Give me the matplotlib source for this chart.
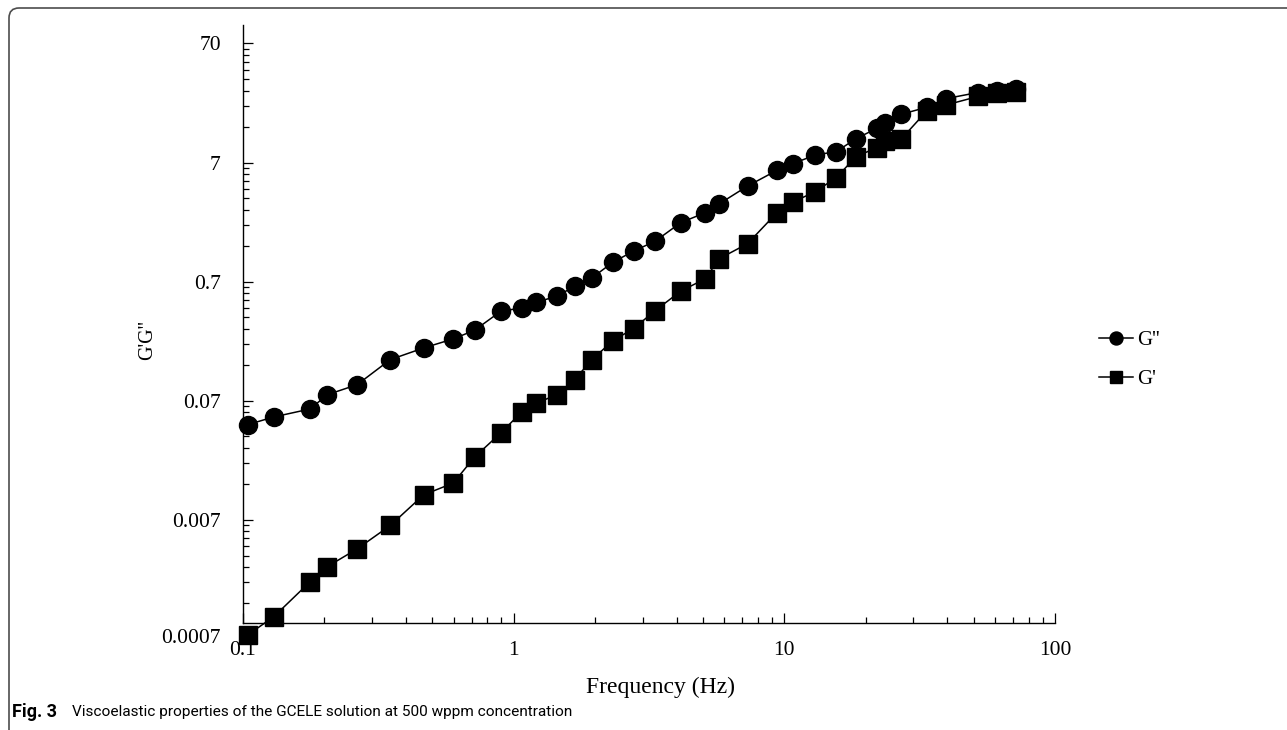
import numpy as np
import matplotlib
matplotlib.use("Agg")
import matplotlib.pyplot as plt
from matplotlib import font_manager
from matplotlib.patches import FancyBboxPatch
from matplotlib.ticker import LogLocator, FuncFormatter, NullFormatter

# Частота, Гц
freq = [0.104, 0.13, 0.177, 0.205, 0.264, 0.35, 0.465, 0.598, 0.717, 0.896,
        1.071, 1.207, 1.445, 1.679, 1.947, 2.328, 2.773, 3.335, 4.14, 5.10,
        5.76, 7.31, 9.39, 10.76, 13.0, 15.55, 18.4, 21.98, 23.6, 26.98,
        33.6, 39.6, 51.9, 61.0, 71.9]

# Модуль потерь G''
g_loss = [0.044, 0.0511, 0.0596, 0.0786, 0.0953, 0.1548, 0.194, 0.231, 0.273, 0.394,
          0.421, 0.469, 0.527, 0.640, 0.753, 1.019, 1.261, 1.530, 2.186, 2.652,
          3.157, 4.438, 6.016, 6.85, 8.09, 8.64, 11.1, 13.56, 15.15, 17.78,
          20.37, 24.1, 27.1, 27.9, 28.9]

# Модуль накопления G'
g_store = [0.000753, 0.001074, 0.00211, 0.00283, 0.00398, 0.00626, 0.01133, 0.01422, 0.0235, 0.03746,
           0.05624, 0.0664, 0.0786, 0.1051, 0.1548, 0.2238, 0.282, 0.400, 0.581, 0.739,
           1.093, 1.456, 2.652, 3.26, 3.98, 5.22, 7.84, 9.34, 10.6, 10.97,
           18.97, 21.3, 25.1, 26.7, 27.6]

y_ticks_sub = (7,)
y_minor_sub = (1.4, 2.1, 2.8, 3.5, 4.2, 4.9, 5.6, 6.3)

names = {f.name for f in font_manager.fontManager.ttflist}
cap_font = "Liberation Sans Narrow" if "Liberation Sans Narrow" in names else "Roboto"

plt.rcParams["font.family"] = "Liberation Serif"

fig = plt.figure(figsize=(12.87, 7.30), dpi=100)
ax = fig.add_axes([243 / 1287, 1 - 623 / 730, (1055 - 243) / 1287, (623 - 25) / 730])

ax.plot(freq, g_loss, color="black", lw=1.1, marker="o", markersize=13,
        label="G''", clip_on=False, zorder=3)
ax.plot(freq, g_store, color="black", lw=1.1, marker="s", markersize=12.5,
        label="G'", clip_on=False, zorder=3)

ax.set_xscale("log")
ax.set_yscale("log")
ax.set_xlim(0.1, 100)
ax.set_ylim(0.00095, 100)

fmt = FuncFormatter(lambda v, p: f"{v:g}")
ax.xaxis.set_major_locator(LogLocator(base=10))
ax.xaxis.set_minor_locator(LogLocator(base=10, subs=np.arange(2, 10), numticks=20))
ax.xaxis.set_major_formatter(fmt)
ax.xaxis.set_minor_formatter(NullFormatter())
ax.yaxis.set_major_locator(LogLocator(base=10, subs=y_ticks_sub, numticks=20))
ax.yaxis.set_minor_locator(LogLocator(base=10, subs=y_minor_sub, numticks=20))
ax.yaxis.set_major_formatter(fmt)
ax.yaxis.set_minor_formatter(NullFormatter())

for s in ("top", "right"):
    ax.spines[s].set_visible(False)
for s in ("left", "bottom"):
    ax.spines[s].set_linewidth(1.0)

ax.tick_params(which="major", direction="in", length=7, width=0.9, labelsize=15.5)
ax.tick_params(which="minor", direction="in", length=4, width=0.9)
ax.tick_params(axis="y", pad=16)
ax.tick_params(axis="x", pad=13)

# подпись 0.0007 лежит ниже оси X
ax.annotate("0.0007", xy=(0, 0.0007), xycoords=("axes fraction", "data"),
            xytext=(-16, 0), textcoords="offset points", ha="right", va="center",
            fontsize=15.5, annotation_clip=False)

ax.set_xlabel("Frequency (Hz)", fontsize=17)
ax.xaxis.label.set_verticalalignment("center")
ax.xaxis.set_label_coords((660 - 243) / 812, (623 - 687) / 598)
ax.set_ylabel("G'G''", fontsize=14.5)
ax.yaxis.label.set_verticalalignment("center")
ax.yaxis.set_label_coords((148 - 243) / 812, (623 - 340) / 598)

ax.legend(loc="center left", bbox_to_anchor=(1099 / 1287, 1 - 360 / 730),
          bbox_transform=fig.transFigure, frameon=False, fontsize=15,
          handlelength=1.65, handletextpad=0.2, labelspacing=0.95,
          borderpad=0, borderaxespad=0, markerscale=0.72)

# рамка рисунка
frame = FancyBboxPatch((0.09, -0.3), 13.3, 7.52,
                       boxstyle="round,pad=0,rounding_size=0.1",
                       transform=fig.dpi_scale_trans, fill=False,
                       edgecolor="#4d4d4d", linewidth=1.2)
fig.patches.append(frame)

fig.text(12 / 1287, 1 - 712 / 730, "Fig. 3", family=cap_font, fontweight="bold",
         fontsize=13, va="center", ha="left")
fig.text(72 / 1287, 1 - 712 / 730,
         "Viscoelastic properties of the GCELE solution at 500 wppm concentration",
         family=cap_font, fontsize=11.1, va="center", ha="left")

fig.savefig("out.png", dpi=100)
